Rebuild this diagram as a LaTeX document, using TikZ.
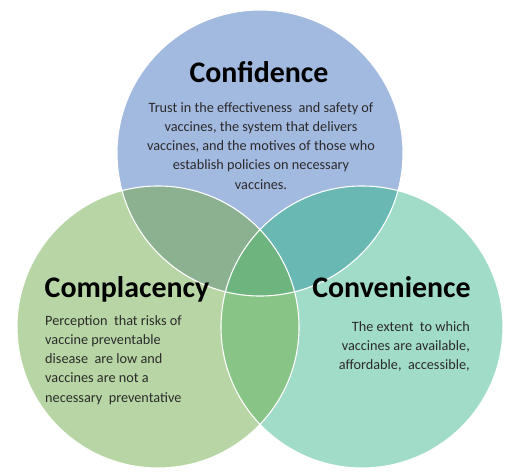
\documentclass[tikz,border=0pt]{standalone}
\usepackage{fontspec}
\setmainfont{Carlito}
\definecolor{cblue}{HTML}{A2B9E0}
\definecolor{cgreen}{HTML}{B8D6A5}
\definecolor{cteal}{HTML}{A1DCC8}
\definecolor{cbg}{HTML}{8BB190}
\definecolor{cbt}{HTML}{69B8B4}
\definecolor{cgt}{HTML}{88C486}
\definecolor{call}{HTML}{6DB47F}
\definecolor{txt}{HTML}{2B2B2B}
\tikzset{
  title/.style={font=\bfseries\fontsize{30}{34}\selectfont, text=black, inner sep=0pt, anchor=base},
  body/.style={font=\fontsize{14.3}{19.2}\selectfont, text=txt, inner sep=0pt, anchor=north},
  rim/.style={draw=white, line width=1.1pt}
}
\begin{document}
\begin{tikzpicture}[x=1bp,y=-1bp]
\useasboundingbox (0,0) rectangle (512,474);
\fill[white] (0,0) rectangle (512,474);
\def\Bc{(260,153) circle (143)}
\def\Gc{(158,327) circle (141)}
\def\Tc{(362,327) circle (141)}
\fill[cblue] \Bc;
\fill[cgreen] \Gc;
\fill[cteal] \Tc;
\begin{scope}\clip \Bc; \fill[cbg] \Gc; \end{scope}
\begin{scope}\clip \Bc; \fill[cbt] \Tc; \end{scope}
\begin{scope}\clip \Gc; \fill[cgt] \Tc; \end{scope}
\begin{scope}\clip \Bc; \clip \Gc; \fill[call] \Tc; \end{scope}
\draw[rim] \Bc;
\draw[rim] \Gc;
\draw[rim] \Tc;
\node[title] (conf) at (259,83) {Confidence};
\node[body, align=center] (confb) at (261,102.5) {Trust in the effectiveness~ and safety of\\vaccines, the system that delivers\\vaccines, and the motives of those who\\establish policies on necessary\\vaccines.};
\node[title] (comp) at (127,297) {Complacency};
\node[body, align=left, anchor=north west] (compb) at (45,315.5) {Perception~ that risks of\\vaccine preventable\\disease~ are low and\\vaccines are not a\\necessary~ preventative};
\node[title] (conv) at (391.5,297) {Convenience};
\node[body, align=right, anchor=north east] (convb) at (470,321.5) {The extent~ to which\\vaccines are available,\\affordable,~ accessible,};
\end{tikzpicture}
\end{document}
